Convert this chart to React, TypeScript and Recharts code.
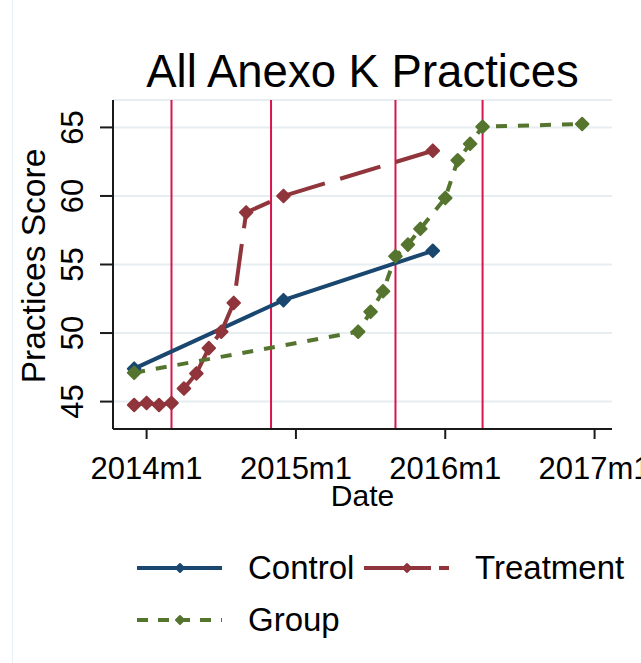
import React from 'react';
import { LineChart, Line, XAxis, YAxis, CartesianGrid, ReferenceLine, Legend } from 'recharts';

const FONT = '"Liberation Sans", Arial, Helvetica, sans-serif';

// Stata-style monthly dates (YYYYmM) and average practice scores
const controlDates = ['2013m12', '2014m12', '2015m12'];
const controlScores = [47.4, 52.4, 56.0];

const treatmentDates = ['2013m12', '2014m1', '2014m2', '2014m3', '2014m4', '2014m5', '2014m6', '2014m7', '2014m8', '2014m9', '2014m12', '2015m12'];
const treatmentScores = [44.75, 44.9, 44.75, 44.9, 45.95, 47.05, 48.9, 50.1, 52.2, 58.8, 60.0, 63.3];

const groupDates = ['2013m12', '2015m6', '2015m7', '2015m8', '2015m9', '2015m10', '2015m11', '2016m1', '2016m2', '2016m3', '2016m4', '2016m12'];
const groupScores = [47.1, 50.1, 51.55, 53.05, 55.6, 56.45, 57.6, 59.85, 62.6, 63.8, 65.05, 65.25];

// program milestones drawn as xlines
const eventDates = ['2014m3', '2014m11', '2015m9', '2016m4'];

const dateTicks = ['2014m1', '2015m1', '2016m1', '2017m1'];
const scoreTicks = [45, 50, 55, 60, 65];

const BLUE = '#1a476f';
const MAROON = '#90353b';
const GREEN = '#55752f';
const XLINE = '#d9164b';
const GRID = '#e6eef1';
const AXIS = '#1a1a1a';

// months since 1960m1, same as Stata's %tm
const toMonth = (s: string) => {
  const [y, m] = s.split('m').map(Number);
  return (y - 1960) * 12 + m - 1;
};
const fromMonth = (v: number) => `${1960 + Math.floor(v / 12)}m${(v % 12) + 1}`;

const toSeries = (dates: string[], scores: number[]) =>
  dates.map((d, i) => ({ month: toMonth(d), score: scores[i] }));

const controlData = toSeries(controlDates, controlScores);
const treatmentData = toSeries(treatmentDates, treatmentScores);
const groupData = toSeries(groupDates, groupScores);

const W = 641;
const H = 663;
const PLOT_TOP = 100;
const PLOT_BOTTOM = 429;
const PLOT_LEFT = 113;
const PLOT_RIGHT = 612;

const Diamond = ({ cx, cy, r, color }: { cx: number; cy: number; r: number; color: string }) => (
  <polygon
    points={`${cx},${cy - r} ${cx + r},${cy} ${cx},${cy + r} ${cx - r},${cy}`}
    fill={color}
    stroke={color}
    strokeWidth={2}
    strokeLinejoin="round"
  />
);

const makeDot = (color: string) => (p: any) =>
  <Diamond key={`d-${p.index}`} cx={p.cx} cy={p.cy} r={6.3} color={color} />;

const XTick = ({ x, payload }: any) => (
  <text x={x} y={PLOT_BOTTOM + 50} textAnchor="middle" fontSize={31} fill="#000" fontFamily={FONT}>
    {fromMonth(payload.value)}
  </text>
);

const YTick = ({ y, payload }: any) => (
  <text
    x={83}
    y={y}
    transform={`rotate(-90, 83, ${y})`}
    textAnchor="middle"
    fontSize={31}
    fill="#000"
    fontFamily={FONT}
  >
    {payload.value}
  </text>
);

const XTitle = () => (
  <text x={(PLOT_LEFT + PLOT_RIGHT) / 2} y={506} textAnchor="middle" fontSize={30} fill="#000" fontFamily={FONT}>
    Date
  </text>
);

const YTitle = () => {
  const cy = 266;
  return (
    <text x={45} y={cy} transform={`rotate(-90, 45, ${cy})`} textAnchor="middle" fontSize={33.5} fill="#000" fontFamily={FONT}>
      Practices Score
    </text>
  );
};

const legendItems = [
  { label: 'Control', color: BLUE, dash: undefined },
  { label: 'Treatment', color: MAROON, dash: '67 8 10' },
  { label: 'Group', color: GREEN, dash: '11 10' },
];

const LegendContent = () => (
  <div
    style={{
      display: 'grid',
      gridTemplateColumns: '227px auto',
      gridAutoRows: '52px',
      paddingLeft: 137,
      fontFamily: FONT,
      fontSize: 33,
      color: '#000',
    }}
  >
    {legendItems.map((it) => (
      <div key={it.label} style={{ display: 'flex', alignItems: 'center', whiteSpace: 'nowrap' }}>
        <svg width={85} height={20} style={{ display: 'block', marginRight: 26 }}>
          <line x1={0} x2={85} y1={10} y2={10} stroke={it.color} strokeWidth={4} strokeDasharray={it.dash} />
          <Diamond cx={43} cy={10} r={4} color={it.color} />
        </svg>
        <span style={{ lineHeight: '52px' }}>{it.label}</span>
      </div>
    ))}
  </div>
);

export default function App() {
  return (
    <div style={{ position: 'fixed', left: 0, top: 0, width: W, height: H, background: '#fff', overflow: 'hidden' }}>
      <div style={{ position: 'absolute', left: 12, top: 0, width: 1, height: H, background: '#e7eff2' }} />
      <svg width={W} height={100} style={{ position: 'absolute', left: 0, top: 0 }}>
        <text x={(PLOT_LEFT + PLOT_RIGHT) / 2} y={87} textAnchor="middle" fontSize={45.5} fill="#000" fontFamily={FONT}>
          All Anexo K Practices
        </text>
      </svg>
      <div style={{ position: 'absolute', left: 0, top: 0 }}>
        <LineChart
          width={W}
          height={H}
          margin={{ top: PLOT_TOP, right: W - PLOT_RIGHT, bottom: 0, left: 0 }}
        >
          <CartesianGrid vertical={false} stroke={GRID} strokeWidth={2} />
          <XAxis
            dataKey="month"
            type="number"
            domain={[645.3, 685.4]}
            allowDataOverflow
            ticks={dateTicks.map(toMonth)}
            interval={0}
            height={H - PLOT_BOTTOM}
            tickSize={10}
            tick={<XTick />}
            stroke={AXIS}
            strokeWidth={2}
            label={<XTitle />}
          />
          <YAxis
            dataKey="score"
            type="number"
            domain={[43, 67]}
            allowDataOverflow
            ticks={scoreTicks}
            interval={0}
            width={PLOT_LEFT}
            tickSize={13}
            tick={<YTick />}
            stroke={AXIS}
            strokeWidth={2}
            label={<YTitle />}
          />
          {eventDates.map((d) => (
            <ReferenceLine key={d} x={toMonth(d)} stroke={XLINE} strokeWidth={2} />
          ))}
          <Line
            data={controlData}
            dataKey="score"
            name="Control"
            stroke={BLUE}
            strokeWidth={4}
            dot={makeDot(BLUE)}
            activeDot={false}
            isAnimationActive={false}
          />
          <Line
            data={treatmentData}
            dataKey="score"
            name="Treatment"
            stroke={MAROON}
            strokeWidth={4}
            strokeDasharray="42 16"
            dot={makeDot(MAROON)}
            activeDot={false}
            isAnimationActive={false}
          />
          <Line
            data={groupData}
            dataKey="score"
            name="Group"
            stroke={GREEN}
            strokeWidth={4}
            strokeDasharray="11 11"
            dot={makeDot(GREEN)}
            activeDot={false}
            isAnimationActive={false}
          />
          <Legend
            layout="horizontal"
            verticalAlign="middle"
            align="center"
            content={<LegendContent />}
            wrapperStyle={{ left: 0, top: 542, width: W }}
          />
        </LineChart>
      </div>
    </div>
  );
}
